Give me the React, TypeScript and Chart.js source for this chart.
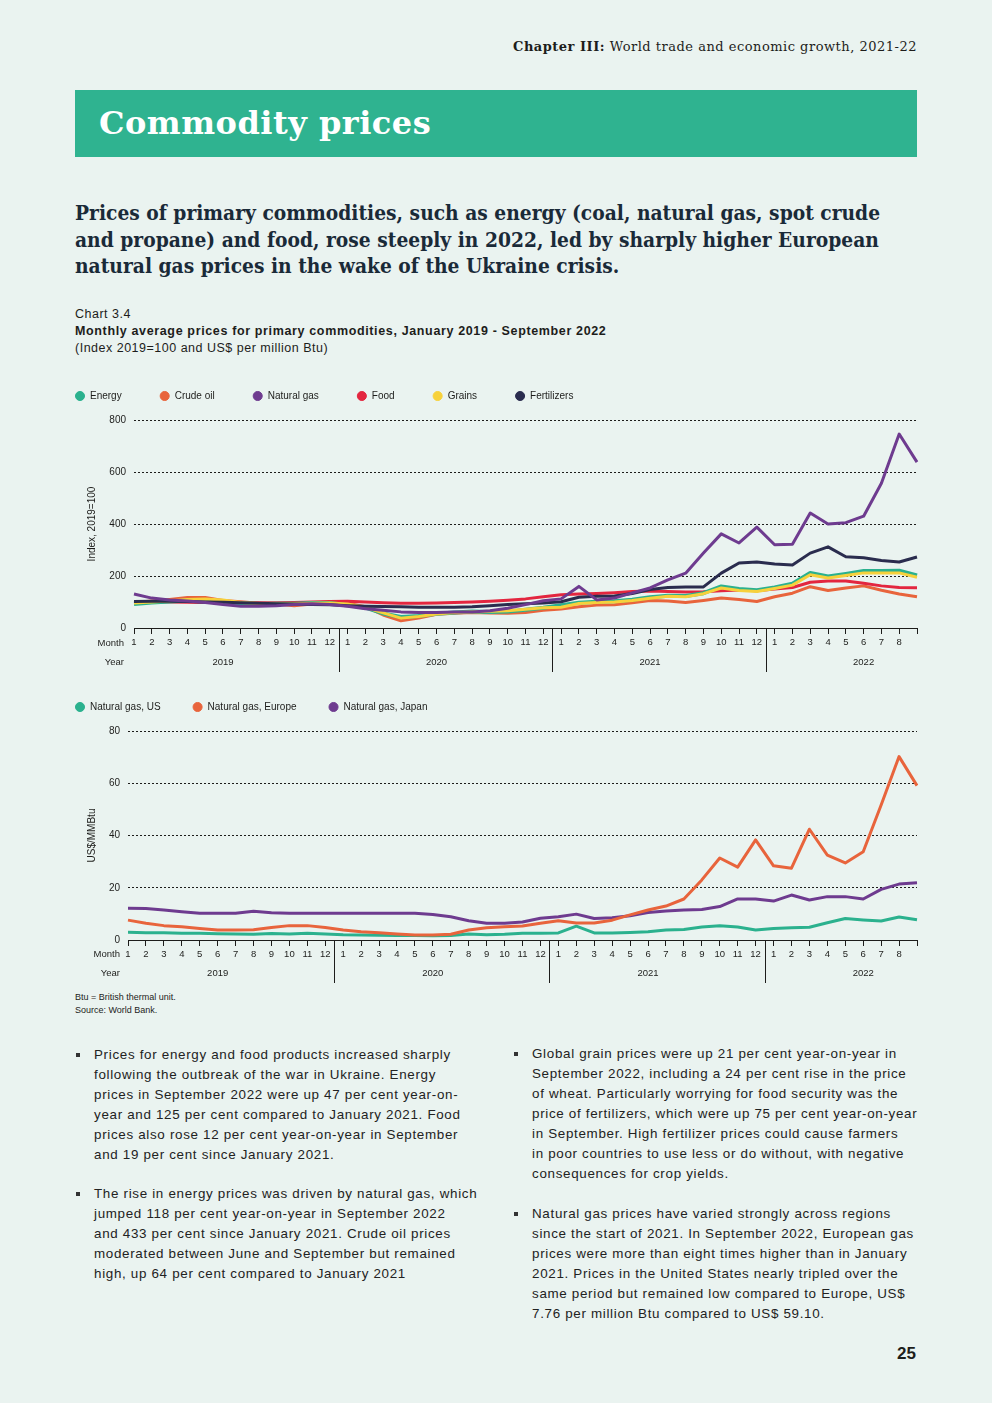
import React, { useEffect, useRef } from 'react';
import { Chart, registerables } from 'chart.js';
Chart.register(...registerables);

const FONT = "'Liberation Sans', Arial, sans-serif";
const TEXT = '#1d1d1b';
const BG = '#eaf3f0';
const GREEN = '#2fb390';

// ---------- data ----------
const months = [
  '1','2','3','4','5','6','7','8','9','10','11','12',
  '1','2','3','4','5','6','7','8','9','10','11','12',
  '1','2','3','4','5','6','7','8','9','10','11','12',
  '1','2','3','4','5','6','7','8',''
];
const years = ['2019', '2020', '2021', '2022'];

// Chart 1: Index, 2019=100
const energy = [
  92, 98, 102, 106, 102, 97, 95, 92, 93, 93, 96, 96,
  88, 78, 56, 42, 46, 55, 60, 63, 62, 63, 70, 78,
  88, 97, 101, 103, 109, 118, 124, 123, 134, 160, 150, 145,
  156, 170, 212, 198, 208, 219, 219, 220, 202
];
const crudeOil = [
  98, 104, 110, 117, 117, 106, 101, 95, 92, 86, 92, 98,
  95, 82, 50, 28, 38, 53, 57, 60, 58, 57, 60, 68,
  73, 82, 88, 89, 97, 106, 104, 98, 106, 115, 110, 102,
  120, 134, 159, 144, 154, 162, 145, 131, 120
];
const naturalGas = [
  131, 115, 108, 104, 98, 90, 84, 84, 86, 90, 93, 90,
  84, 74, 68, 62, 60, 60, 62, 62, 66, 76, 90, 105,
  112, 160, 108, 115, 135, 154, 185, 211, 288, 362, 327, 388,
  320, 322, 442, 400, 405, 430, 557, 746, 638
];
const food = [
  100, 101, 100, 99, 98, 98, 97, 97, 97, 98, 100, 102,
  103, 100, 97, 95, 95, 96, 98, 100, 103, 107, 112, 120,
  128, 131, 133, 136, 140, 142, 140, 138, 139, 143, 146, 143,
  150, 156, 176, 181, 181, 172, 162, 156, 155
];
const grains = [
  96, 100, 104, 110, 112, 108, 98, 94, 92, 93, 95, 96,
  92, 80, 58, 38, 44, 54, 60, 62, 64, 66, 72, 78,
  80, 94, 98, 100, 106, 114, 122, 120, 132, 154, 144, 140,
  152, 165, 205, 192, 202, 212, 212, 212, 195
];
const fertilizers = [
  102, 103, 103, 102, 100, 99, 97, 95, 93, 92, 90, 89,
  86, 84, 83, 82, 80, 80, 80, 82, 86, 90, 93, 96,
  101, 118, 122, 123, 133, 148, 156, 158, 158, 211, 250, 254,
  246, 242, 288, 312, 274, 270, 260, 254, 273
];

// Chart 2: US$/MMBtu
const gasUS = [
  3.0, 2.8, 2.8, 2.6, 2.6, 2.4, 2.3, 2.2, 2.5, 2.3, 2.6, 2.3,
  2.0, 1.9, 1.8, 1.7, 1.7, 1.6, 1.7, 2.3, 2.0, 2.2, 2.6, 2.6,
  2.7, 5.3, 2.7, 2.7, 2.9, 3.2, 3.8, 4.0, 5.0, 5.5, 5.0, 3.8,
  4.4, 4.7, 4.9, 6.6, 8.2, 7.7, 7.3, 8.8, 7.76
];
const gasEurope = [
  7.6, 6.4, 5.5, 5.1, 4.4, 3.8, 3.8, 3.9, 4.8, 5.5, 5.5, 4.8,
  3.8, 3.2, 2.8, 2.3, 1.9, 1.9, 2.2, 3.8, 4.7, 5.1, 5.4, 6.4,
  7.4, 6.5, 6.5, 7.6, 9.6, 11.5, 13.0, 15.7, 23.0, 31.4, 27.9, 38.3,
  28.4, 27.5, 42.4, 32.5, 29.5, 33.8, 51.7, 70.2, 59.1
];
const gasJapan = [
  12.2, 12.1, 11.5, 10.8, 10.2, 10.2, 10.2, 11.0, 10.4, 10.2, 10.2, 10.2,
  10.2, 10.2, 10.2, 10.2, 10.2, 9.8, 8.9, 7.4, 6.4, 6.4, 6.9, 8.3,
  8.9, 9.9, 8.2, 8.5, 9.3, 10.5, 11.1, 11.5, 11.7, 12.8, 15.7, 15.7,
  14.9, 17.2, 15.3, 16.6, 16.6, 15.7, 19.4, 21.4, 21.9
];

const C_TEAL = '#2bb18e';
const C_ORANGE = '#e8643c';
const C_PURPLE = '#6e3b8f';
const C_RED = '#e3263f';
const C_YELLOW = '#f7d13b';
const C_NAVY = '#2a2c4e';

// ---------- plugins ----------
const yearRowPlugin = {
  id: 'yearRow',
  afterDraw(chart: any, _args: any, opts: any) {
    const { ctx, chartArea, scales } = chart;
    const x = scales.x;
    const base = chartArea.bottom;
    ctx.save();
    ctx.fillStyle = TEXT;
    ctx.strokeStyle = TEXT;
    ctx.lineWidth = 1;
    ctx.font = `${opts.fontSize}px ${FONT}`;
    ctx.textBaseline = 'middle';
    ctx.textAlign = 'center';
    years.forEach((yr, k) => {
      const first = k * 12;
      if (k > 0) {
        const px = Math.round((x.getPixelForValue(first - 1) + x.getPixelForValue(first)) / 2) + 0.5;
        ctx.beginPath();
        ctx.moveTo(px, base);
        ctx.lineTo(px, base + opts.sepLength);
        ctx.stroke();
      }
      const mid = Math.min(first + 5, months.length - 1);
      ctx.fillText(yr, x.getPixelForValue(mid), base + opts.yearOffset);
    });
    ctx.textAlign = 'right';
    ctx.fillText('Month', chartArea.left - opts.gap, base + opts.monthOffset);
    ctx.fillText('Year', chartArea.left - opts.gap, base + opts.yearOffset);
    ctx.restore();
  },
};

const legendHeightPlugin = {
  id: 'legendHeight',
  beforeLayout(chart: any, _args: any, opts: any) {
    const lg = chart.legend;
    if (lg && !lg._fixedFit) {
      const orig = lg.fit.bind(lg);
      lg.fit = function () {
        orig();
        this.height = opts.height;
      };
      lg._fixedFit = true;
    }
  },
};

type Opt = {
  yTitle: string; yMax: number; yStep: number;
  legendPad: number; legendH: number; yWidth: number; titlePad: number;
  xHeight: number; monthOffset: number; yearOffset: number; sepLength: number; gap: number;
};

function makeOptions(o: Opt): any {
  return {
    animation: false,
    responsive: false,
    maintainAspectRatio: false,
    layout: { autoPadding: false, padding: { left: 0, right: 8, top: 0, bottom: 0 } },
    elements: { point: { radius: 0 }, line: { tension: 0, borderWidth: 3, borderJoinStyle: 'round' } },
    plugins: {
      tooltip: { enabled: false },
      legend: {
        position: 'top',
        align: 'start',
        labels: {
          usePointStyle: true,
          pointStyle: 'circle',
          boxWidth: 10,
          boxHeight: 6.4,
          padding: o.legendPad,
          color: TEXT,
          font: { family: FONT, size: 10 },
          sort: (a: any, b: any) => a.datasetIndex - b.datasetIndex,
          generateLabels: (chart: any) =>
            Chart.defaults.plugins.legend.labels.generateLabels(chart).map((it: any) => ({ ...it, lineWidth: 1 })),
        },
      },
      legendHeight: { height: o.legendH },
      yearRow: {
        fontSize: 9.5,
        monthOffset: o.monthOffset,
        yearOffset: o.yearOffset,
        sepLength: o.sepLength,
        gap: o.gap,
      },
    },
    scales: {
      x: {
        type: 'category',
        offset: false,
        afterFit: (s: any) => { s.height = o.xHeight; },
        grid: {
          display: true,
          drawOnChartArea: false,
          drawTicks: true,
          tickLength: 6,
          tickColor: TEXT,
          tickWidth: 1,
        },
        border: { display: true, color: TEXT, width: 1 },
        ticks: {
          autoSkip: false,
          maxRotation: 0,
          minRotation: 0,
          padding: 3,
          color: TEXT,
          font: { family: FONT, size: 9.5 },
        },
      },
      y: {
        min: 0,
        max: o.yMax,
        afterFit: (s: any) => { s.width = o.yWidth; },
        ticks: { stepSize: o.yStep, padding: 8, color: TEXT, font: { family: FONT, size: 10 } },
        grid: { display: true, drawTicks: false, color: '#1d1d1b', lineWidth: 1 },
        border: { display: false, dash: [2, 2] },
        title: {
          display: true,
          text: o.yTitle,
          color: TEXT,
          font: { family: FONT, size: 10 },
          padding: { top: o.titlePad, bottom: 0 },
        },
      },
    },
  };
}

const leftLines1 = [
  'Prices for energy and food products increased sharply',
  'following the outbreak of the war in Ukraine. Energy',
  'prices in September 2022 were up 47 per cent year-on-',
  'year and 125 per cent compared to January 2021. Food',
  'prices also rose 12 per cent year-on-year in September',
  'and 19 per cent since January 2021.',
];
const leftLines2 = [
  'The rise in energy prices was driven by natural gas, which',
  'jumped 118 per cent year-on-year in September 2022',
  'and 433 per cent since January 2021. Crude oil prices',
  'moderated between June and September but remained',
  'high, up 64 per cent compared to January 2021',
];
const rightLines1 = [
  'Global grain prices were up 21 per cent year-on-year in',
  'September 2022, including a 24 per cent rise in the price',
  'of wheat. Particularly worrying for food security was the',
  'price of fertilizers, which were up 75 per cent year-on-year',
  'in September. High fertilizer prices could cause farmers',
  'in poor countries to use less or do without, with negative',
  'consequences for crop yields.',
];
const rightLines2 = [
  'Natural gas prices have varied strongly across regions',
  'since the start of 2021. In September 2022, European gas',
  'prices were more than eight times higher than in January',
  '2021. Prices in the United States nearly tripled over the',
  'same period but remained low compared to Europe, US$',
  '7.76 per million Btu compared to US$ 59.10.',
];

function Bullet({ lines, left, top }: { lines: string[]; left: number; top: number }) {
  return (
    <div style={{ position: 'absolute', left, top, fontFamily: FONT, fontSize: 13.4, lineHeight: '20px', color: '#222', letterSpacing: '0.68px', whiteSpace: 'nowrap' }}>
      <div style={{ position: 'absolute', left: 0, top: 8, width: 4, height: 4, background: '#333' }} />
      <div style={{ marginLeft: 18 }}>
        {lines.map((l, i) => <div key={i}>{l}</div>)}
      </div>
    </div>
  );
}

export default function App() {
  const ref1 = useRef<HTMLCanvasElement>(null);
  const ref2 = useRef<HTMLCanvasElement>(null);

  useEffect(() => {
    document.body.style.margin = '0';
    document.body.style.background = BG;
    const c1 = new Chart(ref1.current as HTMLCanvasElement, {
      type: 'line',
      data: {
        labels: months,
        datasets: [
          { label: 'Energy', data: energy, borderColor: C_TEAL, backgroundColor: C_TEAL, borderWidth: 4, order: 3 },
          { label: 'Crude oil', data: crudeOil, borderColor: C_ORANGE, backgroundColor: C_ORANGE, order: 5 },
          { label: 'Natural gas', data: naturalGas, borderColor: C_PURPLE, backgroundColor: C_PURPLE, order: 0 },
          { label: 'Food', data: food, borderColor: C_RED, backgroundColor: C_RED, order: 4 },
          { label: 'Grains', data: grains, borderColor: C_YELLOW, backgroundColor: C_YELLOW, order: 2 },
          { label: 'Fertilizers', data: fertilizers, borderColor: C_NAVY, backgroundColor: C_NAVY, order: 1 },
        ],
      },
      options: makeOptions({
        yTitle: 'Index, 2019=100', yMax: 800, yStep: 200,
        legendPad: 38, legendH: 67, yWidth: 97, titlePad: 49,
        xHeight: 52, monthOffset: 15, yearOffset: 34, sepLength: 44, gap: 10,
      }),
      plugins: [yearRowPlugin, legendHeightPlugin],
    } as any);
    const c2 = new Chart(ref2.current as HTMLCanvasElement, {
      type: 'line',
      data: {
        labels: months,
        datasets: [
          { label: 'Natural gas, US', data: gasUS, borderColor: C_TEAL, backgroundColor: C_TEAL, order: 2 },
          { label: 'Natural gas, Europe', data: gasEurope, borderColor: C_ORANGE, backgroundColor: C_ORANGE, order: 0 },
          { label: 'Natural gas, Japan', data: gasJapan, borderColor: C_PURPLE, backgroundColor: C_PURPLE, order: 1 },
        ],
      },
      options: makeOptions({
        yTitle: 'US$/MMBtu', yMax: 80, yStep: 20,
        legendPad: 32, legendH: 61, yWidth: 85, titlePad: 43,
        xHeight: 45, monthOffset: 14, yearOffset: 33, sepLength: 43, gap: 8,
      }),
      plugins: [yearRowPlugin, legendHeightPlugin],
    } as any);
    return () => { c1.destroy(); c2.destroy(); };
  }, []);

  return (
    <div style={{ position: 'relative', width: 992, height: 1403, background: BG, overflow: 'hidden', color: TEXT }}>
      <div style={{ position: 'absolute', right: 75, top: 38, fontFamily: "'DejaVu Serif', serif", fontSize: 13, lineHeight: '18px', letterSpacing: '0.5px', whiteSpace: 'nowrap', color: '#1d1d1b' }}>
        <b>Chapter III:</b> World trade and economic growth, 2021-22
      </div>
      <div style={{ position: 'absolute', left: 75, top: 90, width: 842, height: 67, background: GREEN }}>
        <div style={{ position: 'absolute', left: 24, top: 13, fontFamily: "'DejaVu Serif', serif", fontWeight: 'bold', fontSize: 32, lineHeight: '40px', color: '#fff', letterSpacing: '0.5px', whiteSpace: 'nowrap' }}>
          Commodity prices
        </div>
      </div>
      <div style={{ position: 'absolute', left: 75, top: 200, fontFamily: "'DejaVu Serif', serif", fontWeight: 'bold', fontSize: 21, lineHeight: '26.5px', color: '#1a2a38', whiteSpace: 'nowrap', transform: 'scaleX(0.89)', transformOrigin: 'left top' }}>
        <div>Prices of primary commodities, such as energy (coal, natural gas, spot crude</div>
        <div>and propane) and food, rose steeply in 2022, led by sharply higher European</div>
        <div>natural gas prices in the wake of the Ukraine crisis.</div>
      </div>
      <div style={{ position: 'absolute', left: 75, top: 306, fontFamily: FONT, fontSize: 12.5, lineHeight: '17px', letterSpacing: '0.5px', whiteSpace: 'nowrap' }}>
        <div>Chart 3.4</div>
        <div style={{ fontWeight: 'bold', letterSpacing: '0.64px' }}>Monthly average prices for primary commodities, January 2019 - September 2022</div>
        <div>(Index 2019=100 and US$ per million Btu)</div>
      </div>
      <canvas ref={ref1} width={888} height={327} style={{ position: 'absolute', left: 37, top: 353, width: 888, height: 327 }} />
      <canvas ref={ref2} width={882} height={315} style={{ position: 'absolute', left: 43, top: 670, width: 882, height: 315 }} />
      <div style={{ position: 'absolute', left: 75, top: 991, fontFamily: FONT, fontSize: 9, lineHeight: '13px', whiteSpace: 'nowrap' }}>
        <div>Btu = British thermal unit.</div>
        <div>Source: World Bank.</div>
      </div>
      <Bullet lines={leftLines1} left={76} top={1045} />
      <Bullet lines={leftLines2} left={76} top={1184} />
      <Bullet lines={rightLines1} left={514} top={1044} />
      <Bullet lines={rightLines2} left={514} top={1204} />
      <div style={{ position: 'absolute', right: 76, top: 1343, fontFamily: FONT, fontSize: 17, lineHeight: '22px', fontWeight: 'bold' }}>25</div>
    </div>
  );
}
